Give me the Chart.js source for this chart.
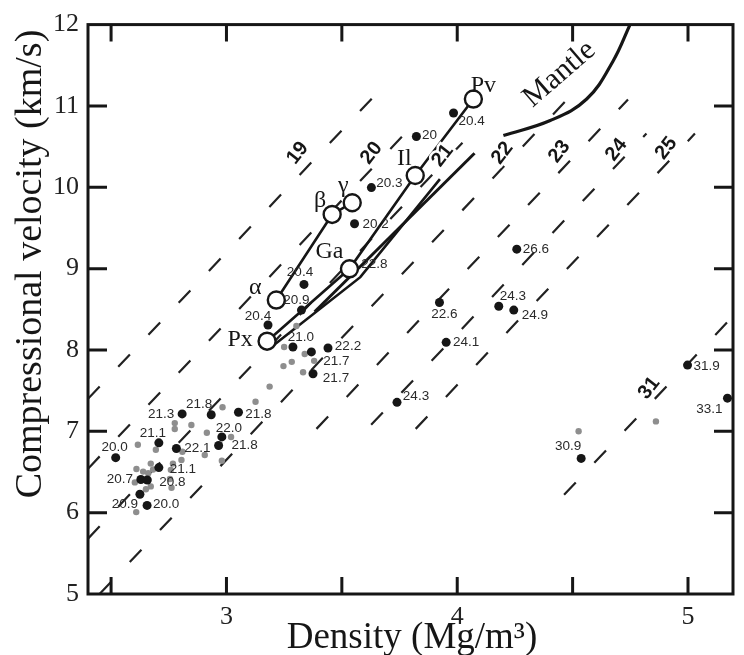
<!DOCTYPE html>
<html>
<head>
<meta charset="utf-8">
<script src="https://cdn.jsdelivr.net/npm/chart.js@4.4.1/dist/chart.umd.min.js"></script>
<style>
  html, body { margin: 0; padding: 0; background: #fff; }
</style>
</head>
<body>
<canvas id="myChart" width="744" height="655"></canvas>
<script>
// labelled samples (black dots) - density, velocity, mean atomic weight
const sampleDensity  = [2.808, 2.934, 3.052, 2.980, 2.966, 2.707, 2.783, 2.520, 2.707, 2.629, 2.657, 2.625, 2.656,
                        3.336, 3.325, 3.180, 3.288, 3.440, 3.368, 3.375, 3.739, 3.923, 4.180, 4.245, 3.952,
                        4.998, 5.171, 4.537, 3.984, 3.823, 3.628, 3.555, 4.258];
const sampleVelocity = [7.214, 7.204, 7.235, 6.931, 6.826, 6.858, 6.789, 6.676, 6.554, 6.408, 6.402, 6.226, 6.089,
                        8.806, 8.490, 8.307, 8.036, 8.024, 7.976, 7.708, 7.356, 8.583, 8.538, 8.490, 8.094,
                        7.814, 7.408, 6.667, 10.913, 10.625, 9.996, 9.552, 9.239];
const sampleLabels   = ['21.3', '21.8', '21.8', '22.0', '21.8', '21.1', '22.1', '20.0', '21.1', '20.7', '20.8', '20.9', '20.0',
                        '20.4', '20.9', '20.4', '21.0', '22.2', '21.7', '21.7', '24.3', '22.6', '24.3', '24.9', '24.1',
                        '31.9', '33.1', '30.9', '20.4', '20', '20.3', '20.2', '26.6'];

// unlabelled samples (grey dots)
const greyDensity  = [3.187, 3.126, 2.983, 2.848, 2.776, 2.776, 2.915, 3.020, 2.616, 2.694, 2.809, 2.906, 2.805, 2.980,
                      2.768, 2.672, 2.610, 2.639, 2.661, 2.682, 2.759, 2.755, 2.762, 2.603, 2.672, 2.651, 2.609,
                      3.303, 3.250, 3.339, 3.380, 3.283, 3.247, 3.332, 4.526, 4.861];
const greyVelocity = [7.550, 7.364, 7.295, 7.077, 7.101, 7.028, 6.983, 6.931, 6.834, 6.773, 6.748, 6.708, 6.648, 6.639,
                      6.603, 6.603, 6.536, 6.505, 6.485, 6.530, 6.526, 6.414, 6.307, 6.372, 6.323, 6.287, 6.007,
                      8.295, 8.036, 7.951, 7.866, 7.854, 7.802, 7.727, 7.000, 7.122];

// mineral phases (open circles)
const phaseNames    = ['Px', 'Ga', 'Il', 'Pv'];
const phaseDensity  = [3.176, 3.533, 3.818, 4.070];
const phaseVelocity = [8.108, 8.998, 10.145, 11.085];
const gaValue = '22.8';
const olivineNames    = ['α', 'β', 'γ'];
const olivineDensity  = [3.216, 3.458, 3.545];
const olivineVelocity = [8.614, 9.666, 9.810];

// two more tie lines
const tieBDensity  = [3.200, 3.580, 3.925];
const tieBVelocity = [8.050, 8.895, 10.100];
const tieCDensity  = [3.382, 4.075];
const tieCVelocity = [8.470, 10.418];

// mantle curve
const mantleDensity  = [4.200, 4.403, 4.561, 4.675, 4.749];
const mantleVelocity = [10.637, 10.820, 11.085, 11.550, 12.000];

// lines of constant mean atomic weight (end points)
const mLabels        = ['19', '20', '21', '22', '23', '24', '25', '31'];
const mStartDensity  = [2.40, 2.40, 2.40, 2.45, 3.39, 3.627, 3.82, 4.463];
const mStartVelocity = [7.40, 6.54, 5.68, 5.00, 7.03, 7.08, 7.03, 6.22];
const mEndDensity    = [3.633, 3.76, 4.07, 4.47, 4.74, 4.82, 5.03, 5.195];
const mEndVelocity   = [11.10, 10.62, 10.69, 11.06, 11.08, 10.66, 10.66, 8.415];

// axis
const xTickLabels = [3, 4, 5];
const xTickMarks = [2.5, 3, 3.5, 4, 4.5, 5];
const yTickMarks = [6, 7, 8, 9, 10, 11];

// ---- layout / style (not data) ----
const sampleLabelOffset = [[-21, 0], [-12, -10], [20, 2], [7, -9], [26, 0], [-6, -10], [21, 0], [-1, -10], [24, 2], [-21, 0],
  [25, 2], [-15, 10], [19, -1], [-4, -12], [-5, -10], [-10, -9], [8, -10], [20, -2], [25, 9], [23, 5], [19, -6], [5, 12],
  [14, -10], [21, 5], [20, 0], [19, 1], [-18, 11], [-13, -12], [18, 8], [13, -1], [18, -4], [21, 1], [19, 0]];
const phaseLabelOffset = [[-27, -1], [-20, -17], [-11, -17], [10, -13]];
const olivineLabelOffset = [[-21, -12], [-12, -14], [-9, -17]];
const mLabelPos = [[3.309, 10.42], [3.629, 10.42], [3.937, 10.39], [4.196, 10.42], [4.443, 10.44], [4.690, 10.46], [4.906, 10.48], [4.832, 7.53]];

const ink = '#161616';
const serif = "'Liberation Serif', 'Times New Roman', serif";
const sans = "'Liberation Sans', Arial, sans-serif";

const pts = (xs, ys) => xs.map((v, i) => ({ x: v, y: ys[i] }));

const datasets = [];
datasets.push({
  label: 'samples', data: pts(sampleDensity, sampleVelocity), order: 0,
  pointRadius: 4.5, pointBackgroundColor: ink, pointBorderWidth: 0
});
datasets.push({
  label: 'grey', data: pts(greyDensity, greyVelocity), order: 1,
  pointRadius: 3.2, pointBackgroundColor: '#8e8e8e', pointBorderWidth: 0
});
datasets.push({
  label: 'phases', data: pts(phaseDensity, phaseVelocity), order: 2, showLine: true,
  borderColor: ink, borderWidth: 2.6, pointRadius: 8.5, pointBackgroundColor: '#fff',
  pointBorderColor: ink, pointBorderWidth: 2.4
});
datasets.push({
  label: 'olivine', data: pts(olivineDensity, olivineVelocity), order: 2, showLine: true,
  borderColor: ink, borderWidth: 2.6, pointRadius: 8.5, pointBackgroundColor: '#fff',
  pointBorderColor: ink, pointBorderWidth: 2.4
});
datasets.push({
  label: 'tieB', data: pts(tieBDensity, tieBVelocity), order: 3, showLine: true,
  borderColor: ink, borderWidth: 2.6, pointRadius: 0
});
datasets.push({
  label: 'tieC', data: pts(tieCDensity, tieCVelocity), order: 3, showLine: true,
  borderColor: ink, borderWidth: 3, pointRadius: 0
});
datasets.push({
  label: 'mantle', data: pts(mantleDensity, mantleVelocity), order: 3, showLine: true,
  borderColor: ink, borderWidth: 3.2, pointRadius: 0, tension: 0.4
});
mLabels.forEach((m, i) => {
  datasets.push({
    label: 'M ' + m,
    data: [{ x: mStartDensity[i], y: mStartVelocity[i] }, { x: mEndDensity[i], y: mEndVelocity[i] }],
    order: 5, showLine: true, borderColor: '#222', borderWidth: 2.2, borderDash: [17, 27], pointRadius: 0
  });
});

const frame = {
  id: 'frame',
  afterDatasetsDraw(chart) {
    const { ctx, chartArea: a, scales: { x, y } } = chart;
    ctx.save();
    ctx.strokeStyle = ink;
    ctx.lineWidth = 3;
    ctx.strokeRect(a.left, a.top, a.right - a.left, a.bottom - a.top);
    ctx.beginPath();
    xTickMarks.forEach(v => {
      const px = x.getPixelForValue(v);
      ctx.moveTo(px, a.bottom); ctx.lineTo(px, a.bottom - 17);
      ctx.moveTo(px, a.top); ctx.lineTo(px, a.top + 17);
    });
    yTickMarks.forEach(v => {
      const py = y.getPixelForValue(v);
      ctx.moveTo(a.left, py); ctx.lineTo(a.left + 19, py);
      ctx.moveTo(a.right, py); ctx.lineTo(a.right - 19, py);
    });
    ctx.stroke();
    ctx.restore();
  }
};

const notes = {
  id: 'notes',
  afterDatasetsDraw(chart) {
    const { ctx, scales: { x, y } } = chart;
    ctx.save();
    ctx.textAlign = 'center';
    ctx.textBaseline = 'middle';

    // constant M labels
    ctx.font = 'bold 20px ' + sans;
    mLabels.forEach((m, i) => {
      const px = x.getPixelForValue(mLabelPos[i][0]);
      const py = y.getPixelForValue(mLabelPos[i][1]);
      ctx.save();
      ctx.translate(px, py);
      ctx.rotate(-52 * Math.PI / 180);
      ctx.lineWidth = 5; ctx.strokeStyle = '#fff';
      ctx.strokeText(m, 0, 0);
      ctx.fillStyle = ink;
      ctx.fillText(m, 0, 0);
      ctx.restore();
    });

    // sample labels
    ctx.font = '13.5px ' + sans;
    ctx.fillStyle = '#2a2a2a';
    const meta = chart.getDatasetMeta(0);
    meta.data.forEach((el, i) => {
      const o = sampleLabelOffset[i];
      ctx.fillText(sampleLabels[i], el.x + o[0], el.y + o[1]);
    });
    const ga = chart.getDatasetMeta(2).data[1];
    ctx.fillText(gaValue, ga.x + 25, ga.y - 5);

    // phase names
    ctx.font = '24px ' + serif;
    ctx.fillStyle = ink;
    chart.getDatasetMeta(2).data.forEach((el, i) => {
      const o = phaseLabelOffset[i];
      ctx.fillText(phaseNames[i], el.x + o[0], el.y + o[1]);
    });
    chart.getDatasetMeta(3).data.forEach((el, i) => {
      const o = olivineLabelOffset[i];
      ctx.fillText(olivineNames[i], el.x + o[0], el.y + o[1]);
    });

    // mantle label
    ctx.save();
    ctx.translate(x.getPixelForValue(4.443), y.getPixelForValue(11.39));
    ctx.rotate(-41 * Math.PI / 180);
    ctx.font = '30px ' + serif;
    ctx.fillText('Mantle', 0, 0);
    ctx.restore();

    // axis titles
    ctx.font = '37px ' + serif;
    ctx.textBaseline = 'alphabetic';
    ctx.fillText('Density (Mg/m³)', 412, 648);
    ctx.font = '38px ' + serif;
    ctx.save();
    ctx.translate(41, 264);
    ctx.rotate(-Math.PI / 2);
    ctx.fillText('Compressional velocity (km/s)', 0, 0);
    ctx.restore();
    ctx.restore();
  }
};

const ctx = document.getElementById('myChart');

new Chart(ctx, {
  type: 'scatter',
  data: { datasets: datasets },
  options: {
    responsive: false,
    animation: false,
    devicePixelRatio: 1,
    layout: { padding: { top: 18, right: 11, left: 0, bottom: 0 } },
    plugins: { legend: { display: false }, tooltip: { enabled: false } },
    scales: {
      x: {
        type: 'linear', min: 2.4, max: 5.195,
        grid: { display: false, drawTicks: false },
        border: { display: false },
        afterBuildTicks: s => { s.ticks = xTickLabels.map(v => ({ value: v })); },
        afterFit: s => { s.height = 61; },
        ticks: { padding: 8, color: '#222', font: { family: serif, size: 26 } }
      },
      y: {
        type: 'linear', min: 5, max: 12,
        grid: { display: false, drawTicks: false },
        border: { display: false },
        afterFit: s => { s.width = 88; },
        ticks: { stepSize: 1, padding: 9, color: '#222', font: { family: serif, size: 26 } }
      }
    }
  },
  plugins: [frame, notes]
});
</script>
</body>
</html>
